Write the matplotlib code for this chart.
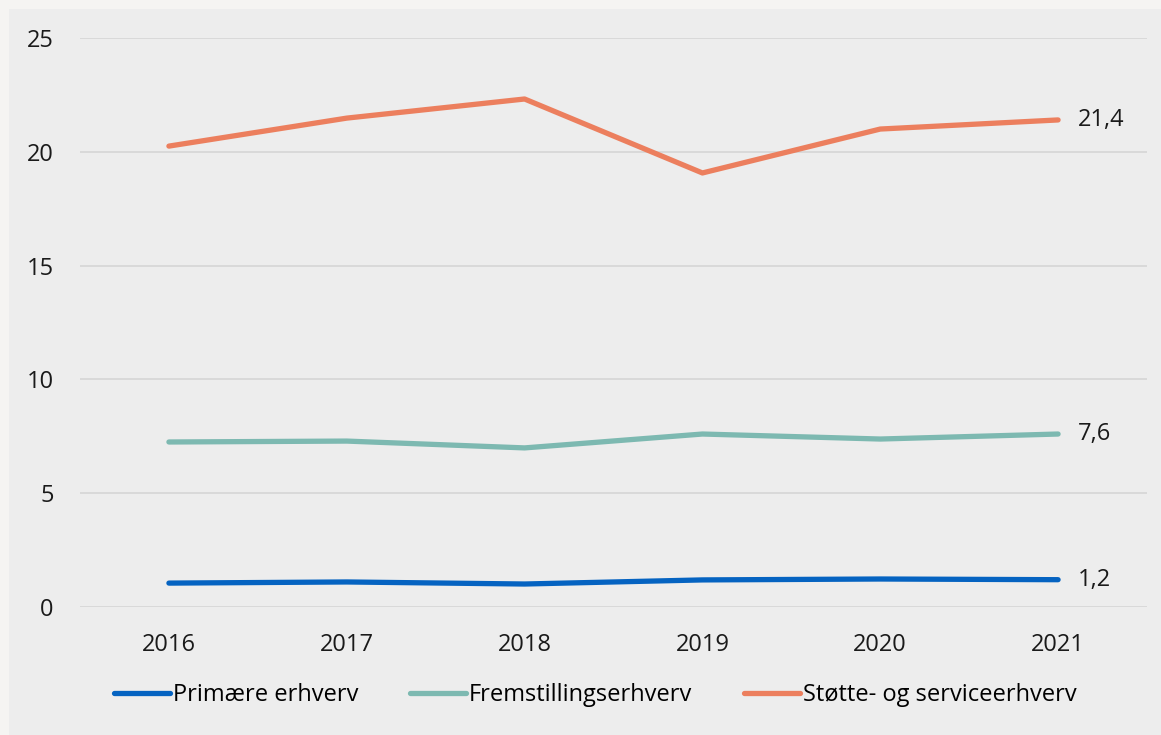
import matplotlib.pyplot as plt
from matplotlib.patches import Rectangle

plt.rcParams['font.family'] = ['Open Sans', 'DejaVu Sans']

aar = ['2016', '2017', '2018', '2019', '2020', '2021']
primaere = [1.05, 1.1, 1.01, 1.19, 1.23, 1.2]
fremstilling = [7.25, 7.29, 6.99, 7.6, 7.38, 7.6]
stotte = [20.25, 21.48, 22.32, 19.07, 21.0, 21.4]

navne = ['Primære erhverv', 'Fremstillingserhverv', 'Støtte- og serviceerhverv']
farver = ['#0563C1', '#7DB9B1', '#EC7F5E']
yticks = [0, 5, 10, 15, 20, 25]

fig = plt.figure(figsize=(11.61, 7.35), dpi=100, facecolor='#F5F4F2')
# inner grey panel
fig.patches.append(Rectangle((9 / 1161, 0), 1, 1 - 9 / 735, transform=fig.transFigure,
                             facecolor='#EDEDED', edgecolor='none', zorder=-5))

ax = fig.add_axes([80 / 1161, (735 - 607) / 735, 1067 / 1161, 569 / 735])
ax.set_facecolor('none')

x = list(range(len(aar)))
for serie, navn, farve in zip([primaere, fremstilling, stotte], navne, farver):
    ax.plot(x, serie, color=farve, lw=3.8, solid_capstyle='round', label=navn, zorder=3)
    ax.annotate(f'{serie[-1]:.1f}'.replace('.', ','), (x[-1], serie[-1]),
                xytext=(20, 0), textcoords='offset pixels', va='center', ha='left',
                fontsize=17, color='#1a1a1a')

ax.set_xlim(-0.5, 5.5)
ax.set_ylim(0, 25)
ax.set_xticks(x)
ax.set_xticklabels(aar)
ax.set_yticks(yticks)
ax.tick_params(length=0, labelsize=17, labelcolor='#1a1a1a')
ax.tick_params(axis='x', pad=19)
ax.tick_params(axis='y', pad=19)
ax.grid(axis='y', color='#D6D6D6', lw=1.2)
ax.set_axisbelow(True)
for s in ax.spines.values():
    s.set_visible(False)

leg = ax.legend(loc='center', bbox_to_anchor=(0.483, -0.155), ncol=3, frameon=False,
                fontsize=17, handlelength=2.35, handletextpad=0.13, columnspacing=2.2)
for h in leg.get_lines():
    h.set_linewidth(3.8)

fig.savefig('out.png', dpi=100, facecolor=fig.get_facecolor())
